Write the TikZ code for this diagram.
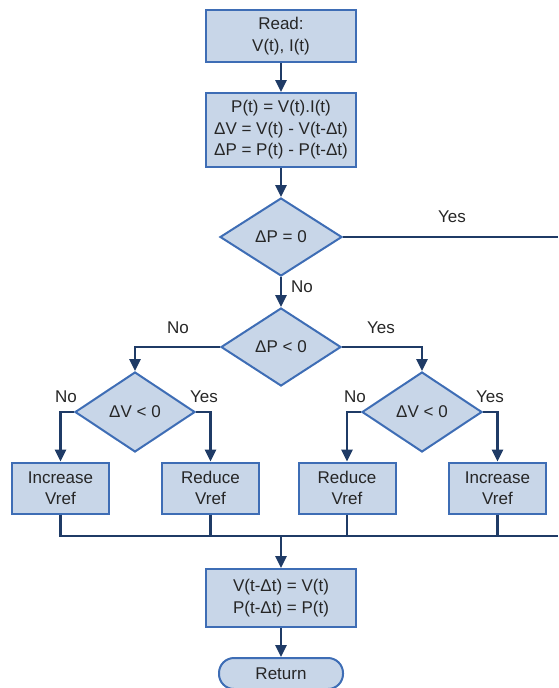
\documentclass[tikz,border=0pt]{standalone}
\usepackage{fontspec}
\setmainfont{Liberation Sans}
\usetikzlibrary{shapes.geometric,arrows.meta,calc}
\definecolor{boxfill}{HTML}{C8D6E8}
\definecolor{boxline}{HTML}{3E6DB5}
\definecolor{conn}{HTML}{1F3B66}
\tikzset{
  procbox/.style={draw=boxline,fill=boxfill,line width=2pt,rectangle,inner sep=0pt,align=center,font=\fontsize{17}{21.5}\selectfont,text=black!85},
  decbox/.style={draw=boxline,fill=boxfill,line width=2pt,diamond,inner sep=0pt,align=center,font=\fontsize{17}{21.5}\selectfont,text=black!85},
  termbox/.style={draw=boxline,fill=boxfill,line width=2pt,rectangle,rounded corners=15pt,inner sep=0pt,align=center,font=\fontsize{17}{21.5}\selectfont,text=black!85},
  flow/.style={draw=conn,line width=2.5pt,-{Triangle[width=11pt,length=12pt]}},
  plainflow/.style={draw=conn,line width=2.5pt},
  lbl/.style={font=\fontsize{17}{19}\selectfont,text=black!85,inner sep=0pt}
}
\begin{document}
\begin{tikzpicture}[x=1pt,y=-1pt]
\useasboundingbox (0,0) rectangle (558,688);
\node[procbox,minimum width=150pt,minimum height=52pt] (read) at (281,36) {Read:\\V(t), I(t)};
\node[procbox,minimum width=150pt,minimum height=74pt] (calc) at (281,130) {P(t) = V(t).I(t)\\ΔV = V(t) - V(t-Δt)\\ΔP = P(t) - P(t-Δt)};
\node[decbox,minimum width=122pt,minimum height=78pt] (d1) at (281,237) {ΔP = 0};
\node[decbox,minimum width=120pt,minimum height=78pt] (d2) at (281,347) {ΔP < 0};
\node[decbox,minimum width=120pt,minimum height=80pt] (d3) at (135,412) {ΔV < 0};
\node[decbox,minimum width=120pt,minimum height=80pt] (d4) at (422,412) {ΔV < 0};
\node[procbox,minimum width=97pt,minimum height=51pt] (b1) at (60.5,488) {Increase\\Vref};
\node[procbox,minimum width=97pt,minimum height=51pt] (b2) at (210.5,488) {Reduce\\Vref};
\node[procbox,minimum width=97pt,minimum height=51pt] (b3) at (347,488) {Reduce\\Vref};
\node[procbox,minimum width=97pt,minimum height=51pt] (b4) at (497.5,488) {Increase\\Vref};
\node[procbox,minimum width=150pt,minimum height=58pt] (upd) at (281,598) {V(t-Δt) = V(t)\\P(t-Δt) = P(t)};
\node[termbox,minimum width=124pt,minimum height=31pt] (ret) at (281,673.5) {Return};
\coordinate (yesend) at (558,237);
\coordinate (j) at (281,536);
\coordinate (jr) at (558,536);
\coordinate (jl) at (b1 |- j);
\draw[flow] (read) -- (calc);
\draw[flow] (calc) -- (d1);
\draw[plainflow] (d1.east) -- (yesend);
\draw[flow] (d1) -- (d2);
\draw[flow] (d2.west) -| (d3.north);
\draw[flow] (d2.east) -| (d4.north);
\draw[flow] (d3.west) -| (b1.north);
\draw[flow] (d3.east) -| (b2.north);
\draw[flow] (d4.west) -| (b3.north);
\draw[flow] (d4.east) -| (b4.north);
\draw[plainflow] (b1.south) -- (jl) -- (jr);
\draw[plainflow] (b2.south) -- (b2 |- j);
\draw[plainflow] (b3.south) -- (b3 |- j);
\draw[plainflow] (b4.south) -- (b4 |- j);
\draw[flow] (j) -- (upd);
\draw[flow] (upd) -- (ret);
\node[lbl] (lyes1) at (452,217) {Yes};
\node[lbl] (lno1) at (302,287) {No};
\node[lbl] (lno2) at (178,328) {No};
\node[lbl] (lyes2) at (381,328) {Yes};
\node[lbl] (lno3) at (66,397) {No};
\node[lbl] (lyes3) at (204,397) {Yes};
\node[lbl] (lno4) at (355,397) {No};
\node[lbl] (lyes4) at (490,397) {Yes};
\end{tikzpicture}
\end{document}
